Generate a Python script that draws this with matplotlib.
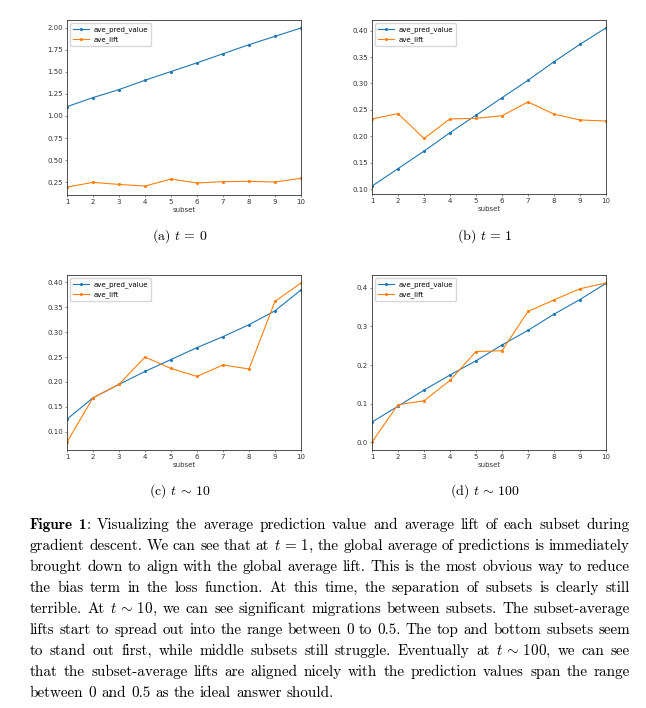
import re
import matplotlib
matplotlib.use("Agg")
import matplotlib.pyplot as plt

plt.rcParams['mathtext.fontset'] = 'cm'

subsets = list(range(1, 11))

# t = 0
pred_t0 = [1.106, 1.209, 1.300, 1.406, 1.505, 1.604, 1.707, 1.810, 1.905, 2.000]
lift_t0 = [0.193, 0.246, 0.223, 0.204, 0.284, 0.239, 0.254, 0.258, 0.250, 0.292]
# t = 1
pred_t1 = [0.106, 0.139, 0.172, 0.207, 0.240, 0.273, 0.306, 0.341, 0.374, 0.405]
lift_t1 = [0.233, 0.243, 0.196, 0.233, 0.234, 0.239, 0.265, 0.242, 0.231, 0.229]
# t ~ 10
pred_t10 = [0.125, 0.168, 0.195, 0.221, 0.245, 0.269, 0.291, 0.315, 0.343, 0.385]
lift_t10 = [0.079, 0.168, 0.195, 0.250, 0.227, 0.211, 0.234, 0.226, 0.362, 0.399]
# t ~ 100
pred_t100 = [0.052, 0.093, 0.135, 0.174, 0.211, 0.252, 0.290, 0.332, 0.370, 0.412]
lift_t100 = [0.000, 0.097, 0.107, 0.160, 0.235, 0.237, 0.339, 0.369, 0.398, 0.413]

sub_captions = [r"(a) $t\,=\,0$", r"(b) $t\,=\,1$", r"(c) $t\,\sim\,10$", r"(d) $t\,\sim\,100$"]

caption_lines = [
    r"<b>Figure</b> <b>1</b>: Visualizing the average prediction value and average lift of each subset during",
    r"gradient descent. We can see that at $t\,=\,1$, the global average of predictions is immediately",
    r"brought down to align with the global average lift. This is the most obvious way to reduce",
    r"the bias term in the loss function.  At this time, the separation of subsets is clearly still",
    r"terrible. At $t\,\sim\,10$, we can see significant migrations between subsets. The subset-average",
    r"lifts start to spread out into the range between 0 to 0.5. The top and bottom subsets seem",
    r"to stand out first, while middle subsets still struggle.  Eventually at $t\,\sim\,100$, we can see",
    r"that the subset-average lifts are aligned nicely with the prediction values span the range",
    r"between 0 and 0.5 as the ideal answer should.",
]

W, H = 646, 708
fig = plt.figure(figsize=(W / 100, H / 100), dpi=100)

# axes boxes in pixels: left, top, right, bottom
boxes = [(67, 20, 301, 195), (372, 20, 606, 194), (67, 275, 301, 450), (372, 275, 606, 450)]
data = [(pred_t0, lift_t0), (pred_t1, lift_t1), (pred_t10, lift_t10), (pred_t100, lift_t100)]
cap_pos = [(180, 240), (485, 240), (180, 495), (485, 495)]

small = 5
for (l, t, r, b), (pred, lift), cap, (cx, cy) in zip(boxes, data, sub_captions, cap_pos):
    ax = fig.add_axes([l / W, 1 - b / H, (r - l) / W, (b - t) / H])
    ax.plot(subsets, pred, color='#1f77b4', marker='.', markersize=2.5, linewidth=0.8, label='ave_pred_value')
    ax.plot(subsets, lift, color='#ff7f0e', marker='.', markersize=2.5, linewidth=0.8, label='ave_lift')
    ax.set_xlim(1, 10)
    ax.set_xticks(subsets)
    ax.set_xlabel('subset', fontsize=small, color='#333333', labelpad=1)
    ax.tick_params(labelsize=small, length=1.5, width=0.4, pad=1.5, colors='#333333')
    for sp in ax.spines.values():
        sp.set_linewidth(0.6)
        sp.set_color('#333333')
    ax.legend(loc='upper left', fontsize=small, frameon=True, borderpad=0.4, handlelength=2.2,
              framealpha=0.8, edgecolor='#cccccc')
    fig.text(cx / W, 1 - cy / H, cap, family='cmr10', fontsize=10, ha='center', va='baseline')

# justified caption
renderer = fig.canvas.get_renderer()
fs = 10.9
reg = dict(family='cmr10', fontsize=fs)
bold = dict(family='cmb10', fontsize=fs)


def word_parts(token):
    parts = []
    for seg in re.split(r'(<b>.*?</b>)', token):
        if not seg:
            continue
        if seg.startswith('<b>'):
            parts.append((seg[3:-4], bold))
        else:
            parts.append((seg, reg))
    return parts


x_left, x_right = 30, 630
for i, line in enumerate(caption_lines):
    y = 529 + 21 * i
    tokens = re.findall(r'(?:\$[^$]*\$|<b>.*?</b>|\S)+', line)
    words = []
    for tok in tokens:
        items = []
        wsum = 0
        for s, fp in word_parts(tok):
            txt = fig.text(0, 0, s, ha='left', va='baseline', **fp)
            w = txt.get_window_extent(renderer).width
            items.append((txt, wsum))
            wsum += w
        words.append((items, wsum))
    total = sum(w for _, w in words)
    if i < len(caption_lines) - 1:
        gap = (x_right - x_left - total) / (len(words) - 1)
    else:
        gap = fs * 100 / 72 * 0.333
    x = x_left
    for items, w in words:
        for txt, off in items:
            txt.set_position(((x + off) / W, 1 - y / H))
        x += w + gap

fig.savefig('out.png', dpi=100)
